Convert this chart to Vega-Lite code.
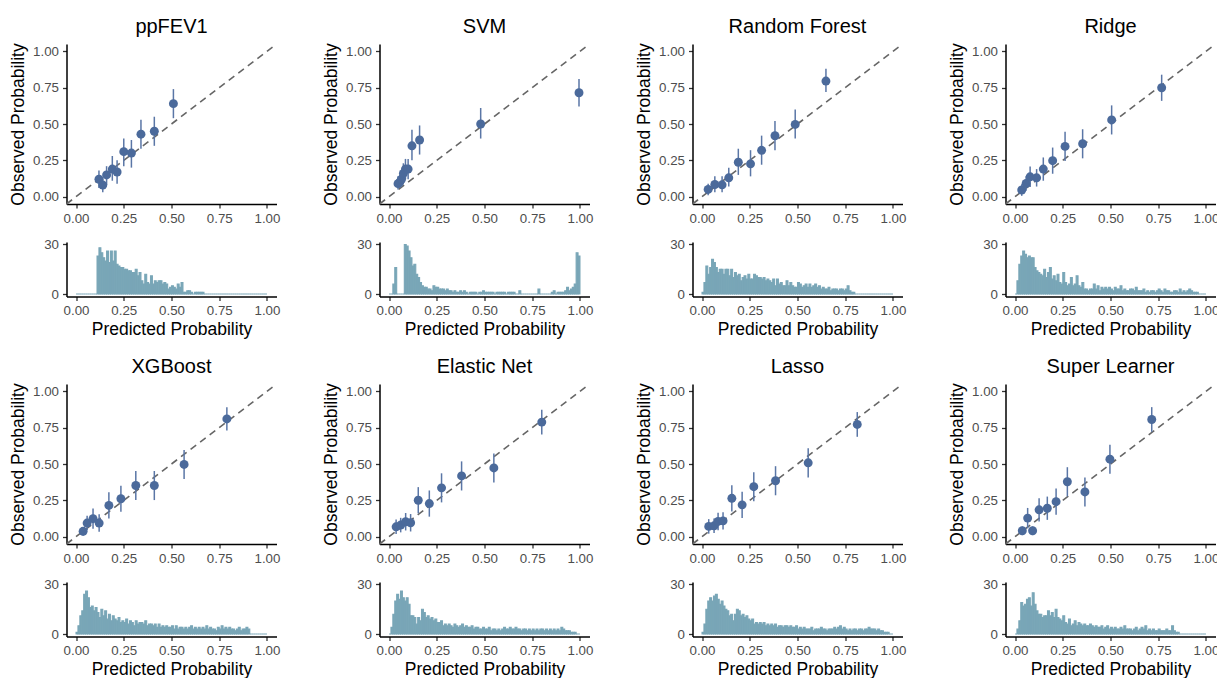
{
"$schema": "https://vega.github.io/schema/vega-lite/v6.json",
"background": "white",
"padding": {"left": 9.5, "top": 17, "right": 0, "bottom": 0},
"config": {
  "font": "Liberation Sans",
  "view": {"stroke": null},
  "axis": {"grid": false, "domainColor": "#000000", "domainWidth": 1.5, "tickColor": "#333333", "tickWidth": 1.3, "tickSize": 4, "labelColor": "#4D4D4D", "labelFontSize": 13.3, "labelPadding": 3, "labelFlush": false, "labelOverlap": false, "titleFontSize": 17.5, "titleFontWeight": "normal", "titleColor": "#000000", "titlePadding": 4},
  "axisY": {"labelPadding": 4, "titlePadding": 5},
  "title": {"fontSize": 20, "fontWeight": "normal", "color": "#000000", "anchor": "middle", "frame": "group", "baseline": "alphabetic", "offset": 3.5}
},
"datasets": {
"calib": [
{"model":"ppFEV1","pred":0.12,"obs":0.12,"lo":0.06,"hi":0.18},
{"model":"ppFEV1","pred":0.14,"obs":0.08,"lo":0.03,"hi":0.13},
{"model":"ppFEV1","pred":0.16,"obs":0.15,"lo":0.08,"hi":0.21},
{"model":"ppFEV1","pred":0.19,"obs":0.19,"lo":0.11,"hi":0.28},
{"model":"ppFEV1","pred":0.215,"obs":0.17,"lo":0.09,"hi":0.25},
{"model":"ppFEV1","pred":0.25,"obs":0.31,"lo":0.21,"hi":0.40},
{"model":"ppFEV1","pred":0.29,"obs":0.30,"lo":0.20,"hi":0.39},
{"model":"ppFEV1","pred":0.34,"obs":0.43,"lo":0.33,"hi":0.53},
{"model":"ppFEV1","pred":0.41,"obs":0.45,"lo":0.35,"hi":0.55},
{"model":"ppFEV1","pred":0.51,"obs":0.64,"lo":0.54,"hi":0.74},
{"model":"SVM","pred":0.047,"obs":0.09,"lo":0.05,"hi":0.14},
{"model":"SVM","pred":0.056,"obs":0.10,"lo":0.06,"hi":0.15},
{"model":"SVM","pred":0.065,"obs":0.12,"lo":0.07,"hi":0.17},
{"model":"SVM","pred":0.075,"obs":0.16,"lo":0.10,"hi":0.23},
{"model":"SVM","pred":0.086,"obs":0.19,"lo":0.12,"hi":0.26},
{"model":"SVM","pred":0.10,"obs":0.19,"lo":0.12,"hi":0.26},
{"model":"SVM","pred":0.12,"obs":0.35,"lo":0.25,"hi":0.46},
{"model":"SVM","pred":0.16,"obs":0.39,"lo":0.29,"hi":0.49},
{"model":"SVM","pred":0.48,"obs":0.50,"lo":0.40,"hi":0.61},
{"model":"SVM","pred":0.995,"obs":0.715,"lo":0.62,"hi":0.81},
{"model":"Random Forest","pred":0.032,"obs":0.05,"lo":0.01,"hi":0.09},
{"model":"Random Forest","pred":0.067,"obs":0.084,"lo":0.03,"hi":0.14},
{"model":"Random Forest","pred":0.105,"obs":0.082,"lo":0.03,"hi":0.14},
{"model":"Random Forest","pred":0.14,"obs":0.13,"lo":0.07,"hi":0.20},
{"model":"Random Forest","pred":0.19,"obs":0.237,"lo":0.15,"hi":0.33},
{"model":"Random Forest","pred":0.254,"obs":0.226,"lo":0.14,"hi":0.32},
{"model":"Random Forest","pred":0.312,"obs":0.319,"lo":0.22,"hi":0.42},
{"model":"Random Forest","pred":0.382,"obs":0.419,"lo":0.32,"hi":0.52},
{"model":"Random Forest","pred":0.488,"obs":0.497,"lo":0.40,"hi":0.60},
{"model":"Random Forest","pred":0.649,"obs":0.795,"lo":0.72,"hi":0.88},
{"model":"Ridge","pred":0.035,"obs":0.046,"lo":0.006,"hi":0.086},
{"model":"Ridge","pred":0.058,"obs":0.091,"lo":0.041,"hi":0.141},
{"model":"Ridge","pred":0.079,"obs":0.137,"lo":0.067,"hi":0.207},
{"model":"Ridge","pred":0.113,"obs":0.13,"lo":0.07,"hi":0.19},
{"model":"Ridge","pred":0.148,"obs":0.19,"lo":0.11,"hi":0.27},
{"model":"Ridge","pred":0.197,"obs":0.248,"lo":0.158,"hi":0.338},
{"model":"Ridge","pred":0.262,"obs":0.346,"lo":0.246,"hi":0.446},
{"model":"Ridge","pred":0.354,"obs":0.364,"lo":0.264,"hi":0.464},
{"model":"Ridge","pred":0.506,"obs":0.528,"lo":0.428,"hi":0.628},
{"model":"Ridge","pred":0.768,"obs":0.749,"lo":0.659,"hi":0.839},
{"model":"XGBoost","pred":0.037,"obs":0.037,"lo":0.007,"hi":0.067},
{"model":"XGBoost","pred":0.058,"obs":0.094,"lo":0.044,"hi":0.144},
{"model":"XGBoost","pred":0.089,"obs":0.124,"lo":0.054,"hi":0.194},
{"model":"XGBoost","pred":0.121,"obs":0.094,"lo":0.034,"hi":0.154},
{"model":"XGBoost","pred":0.172,"obs":0.215,"lo":0.125,"hi":0.305},
{"model":"XGBoost","pred":0.235,"obs":0.261,"lo":0.171,"hi":0.351},
{"model":"XGBoost","pred":0.313,"obs":0.352,"lo":0.252,"hi":0.452},
{"model":"XGBoost","pred":0.41,"obs":0.352,"lo":0.252,"hi":0.452},
{"model":"XGBoost","pred":0.566,"obs":0.497,"lo":0.397,"hi":0.597},
{"model":"XGBoost","pred":0.79,"obs":0.81,"lo":0.73,"hi":0.89},
{"model":"Elastic Net","pred":0.037,"obs":0.068,"lo":0.018,"hi":0.118},
{"model":"Elastic Net","pred":0.061,"obs":0.08,"lo":0.03,"hi":0.13},
{"model":"Elastic Net","pred":0.087,"obs":0.103,"lo":0.043,"hi":0.163},
{"model":"Elastic Net","pred":0.113,"obs":0.096,"lo":0.036,"hi":0.156},
{"model":"Elastic Net","pred":0.153,"obs":0.251,"lo":0.161,"hi":0.341},
{"model":"Elastic Net","pred":0.211,"obs":0.228,"lo":0.138,"hi":0.318},
{"model":"Elastic Net","pred":0.275,"obs":0.336,"lo":0.236,"hi":0.436},
{"model":"Elastic Net","pred":0.38,"obs":0.418,"lo":0.318,"hi":0.518},
{"model":"Elastic Net","pred":0.549,"obs":0.473,"lo":0.373,"hi":0.573},
{"model":"Elastic Net","pred":0.80,"obs":0.788,"lo":0.703,"hi":0.873},
{"model":"Lasso","pred":0.035,"obs":0.071,"lo":0.021,"hi":0.121},
{"model":"Lasso","pred":0.063,"obs":0.075,"lo":0.025,"hi":0.125},
{"model":"Lasso","pred":0.084,"obs":0.105,"lo":0.045,"hi":0.165},
{"model":"Lasso","pred":0.11,"obs":0.109,"lo":0.049,"hi":0.169},
{"model":"Lasso","pred":0.156,"obs":0.264,"lo":0.174,"hi":0.354},
{"model":"Lasso","pred":0.21,"obs":0.219,"lo":0.129,"hi":0.309},
{"model":"Lasso","pred":0.271,"obs":0.344,"lo":0.244,"hi":0.444},
{"model":"Lasso","pred":0.385,"obs":0.385,"lo":0.285,"hi":0.485},
{"model":"Lasso","pred":0.556,"obs":0.508,"lo":0.408,"hi":0.608},
{"model":"Lasso","pred":0.813,"obs":0.772,"lo":0.687,"hi":0.857},
{"model":"Super Learner","pred":0.038,"obs":0.041,"lo":0.011,"hi":0.071},
{"model":"Super Learner","pred":0.066,"obs":0.128,"lo":0.058,"hi":0.198},
{"model":"Super Learner","pred":0.092,"obs":0.041,"lo":0.011,"hi":0.071},
{"model":"Super Learner","pred":0.126,"obs":0.185,"lo":0.105,"hi":0.265},
{"model":"Super Learner","pred":0.169,"obs":0.196,"lo":0.116,"hi":0.276},
{"model":"Super Learner","pred":0.215,"obs":0.241,"lo":0.151,"hi":0.331},
{"model":"Super Learner","pred":0.274,"obs":0.378,"lo":0.278,"hi":0.478},
{"model":"Super Learner","pred":0.366,"obs":0.308,"lo":0.208,"hi":0.408},
{"model":"Super Learner","pred":0.497,"obs":0.533,"lo":0.433,"hi":0.633},
{"model":"Super Learner","pred":0.716,"obs":0.806,"lo":0.721,"hi":0.891}
],
"hist": [
{"model":"ppFEV1","b0":0,"b1":0.01,"n":0},{"model":"ppFEV1","b0":0.01,"b1":0.02,"n":0},{"model":"ppFEV1","b0":0.02,"b1":0.03,"n":0},{"model":"ppFEV1","b0":0.03,"b1":0.04,"n":0},{"model":"ppFEV1","b0":0.04,"b1":0.05,"n":0},{"model":"ppFEV1","b0":0.05,"b1":0.06,"n":0},{"model":"ppFEV1","b0":0.06,"b1":0.07,"n":0},{"model":"ppFEV1","b0":0.07,"b1":0.08,"n":0},{"model":"ppFEV1","b0":0.08,"b1":0.09,"n":0},{"model":"ppFEV1","b0":0.09,"b1":0.1,"n":0},
{"model":"ppFEV1","b0":0.1,"b1":0.11,"n":0},{"model":"ppFEV1","b0":0.11,"b1":0.12,"n":23},{"model":"ppFEV1","b0":0.12,"b1":0.13,"n":28},{"model":"ppFEV1","b0":0.13,"b1":0.14,"n":25},{"model":"ppFEV1","b0":0.14,"b1":0.15,"n":22},{"model":"ppFEV1","b0":0.15,"b1":0.16,"n":20},{"model":"ppFEV1","b0":0.16,"b1":0.17,"n":26},{"model":"ppFEV1","b0":0.17,"b1":0.18,"n":19},{"model":"ppFEV1","b0":0.18,"b1":0.19,"n":26},{"model":"ppFEV1","b0":0.19,"b1":0.2,"n":20},
{"model":"ppFEV1","b0":0.2,"b1":0.21,"n":26},{"model":"ppFEV1","b0":0.21,"b1":0.22,"n":18},{"model":"ppFEV1","b0":0.22,"b1":0.23,"n":17},{"model":"ppFEV1","b0":0.23,"b1":0.24,"n":16},{"model":"ppFEV1","b0":0.24,"b1":0.25,"n":16},{"model":"ppFEV1","b0":0.25,"b1":0.26,"n":15},{"model":"ppFEV1","b0":0.26,"b1":0.27,"n":15},{"model":"ppFEV1","b0":0.27,"b1":0.28,"n":14},{"model":"ppFEV1","b0":0.28,"b1":0.29,"n":14},{"model":"ppFEV1","b0":0.29,"b1":0.3,"n":13},
{"model":"ppFEV1","b0":0.3,"b1":0.31,"n":13},{"model":"ppFEV1","b0":0.31,"b1":0.32,"n":15},{"model":"ppFEV1","b0":0.32,"b1":0.33,"n":11},{"model":"ppFEV1","b0":0.33,"b1":0.34,"n":13},{"model":"ppFEV1","b0":0.34,"b1":0.35,"n":8},{"model":"ppFEV1","b0":0.35,"b1":0.36,"n":6},{"model":"ppFEV1","b0":0.36,"b1":0.37,"n":12},{"model":"ppFEV1","b0":0.37,"b1":0.38,"n":7},{"model":"ppFEV1","b0":0.38,"b1":0.39,"n":6},{"model":"ppFEV1","b0":0.39,"b1":0.4,"n":11},
{"model":"ppFEV1","b0":0.4,"b1":0.41,"n":6},{"model":"ppFEV1","b0":0.41,"b1":0.42,"n":8},{"model":"ppFEV1","b0":0.42,"b1":0.43,"n":7},{"model":"ppFEV1","b0":0.43,"b1":0.44,"n":8},{"model":"ppFEV1","b0":0.44,"b1":0.45,"n":8},{"model":"ppFEV1","b0":0.45,"b1":0.46,"n":6},{"model":"ppFEV1","b0":0.46,"b1":0.47,"n":7},{"model":"ppFEV1","b0":0.47,"b1":0.48,"n":6},{"model":"ppFEV1","b0":0.48,"b1":0.49,"n":3},{"model":"ppFEV1","b0":0.49,"b1":0.5,"n":4},
{"model":"ppFEV1","b0":0.5,"b1":0.51,"n":5},{"model":"ppFEV1","b0":0.51,"b1":0.52,"n":4},{"model":"ppFEV1","b0":0.52,"b1":0.53,"n":3},{"model":"ppFEV1","b0":0.53,"b1":0.54,"n":6},{"model":"ppFEV1","b0":0.54,"b1":0.55,"n":4},{"model":"ppFEV1","b0":0.55,"b1":0.56,"n":7},{"model":"ppFEV1","b0":0.56,"b1":0.57,"n":1},{"model":"ppFEV1","b0":0.57,"b1":0.58,"n":1},{"model":"ppFEV1","b0":0.58,"b1":0.59,"n":2},{"model":"ppFEV1","b0":0.59,"b1":0.6,"n":2},
{"model":"ppFEV1","b0":0.6,"b1":0.61,"n":1},{"model":"ppFEV1","b0":0.61,"b1":0.62,"n":0},{"model":"ppFEV1","b0":0.62,"b1":0.63,"n":1},{"model":"ppFEV1","b0":0.63,"b1":0.64,"n":1},{"model":"ppFEV1","b0":0.64,"b1":0.65,"n":1},{"model":"ppFEV1","b0":0.65,"b1":0.66,"n":1},{"model":"ppFEV1","b0":0.66,"b1":0.67,"n":1},{"model":"ppFEV1","b0":0.67,"b1":0.68,"n":0},{"model":"ppFEV1","b0":0.68,"b1":0.69,"n":0},{"model":"ppFEV1","b0":0.69,"b1":0.7,"n":0},
{"model":"ppFEV1","b0":0.7,"b1":0.71,"n":0},{"model":"ppFEV1","b0":0.71,"b1":0.72,"n":0},{"model":"ppFEV1","b0":0.72,"b1":0.73,"n":0},{"model":"ppFEV1","b0":0.73,"b1":0.74,"n":0},{"model":"ppFEV1","b0":0.74,"b1":0.75,"n":0},{"model":"ppFEV1","b0":0.75,"b1":0.76,"n":0},{"model":"ppFEV1","b0":0.76,"b1":0.77,"n":0},{"model":"ppFEV1","b0":0.77,"b1":0.78,"n":0},{"model":"ppFEV1","b0":0.78,"b1":0.79,"n":0},{"model":"ppFEV1","b0":0.79,"b1":0.8,"n":0},
{"model":"ppFEV1","b0":0.8,"b1":0.81,"n":0},{"model":"ppFEV1","b0":0.81,"b1":0.82,"n":0},{"model":"ppFEV1","b0":0.82,"b1":0.83,"n":0},{"model":"ppFEV1","b0":0.83,"b1":0.84,"n":0},{"model":"ppFEV1","b0":0.84,"b1":0.85,"n":0},{"model":"ppFEV1","b0":0.85,"b1":0.86,"n":0},{"model":"ppFEV1","b0":0.86,"b1":0.87,"n":0},{"model":"ppFEV1","b0":0.87,"b1":0.88,"n":0},{"model":"ppFEV1","b0":0.88,"b1":0.89,"n":0},{"model":"ppFEV1","b0":0.89,"b1":0.9,"n":0},
{"model":"ppFEV1","b0":0.9,"b1":0.91,"n":0},{"model":"ppFEV1","b0":0.91,"b1":0.92,"n":0},{"model":"ppFEV1","b0":0.92,"b1":0.93,"n":0},{"model":"ppFEV1","b0":0.93,"b1":0.94,"n":0},{"model":"ppFEV1","b0":0.94,"b1":0.95,"n":0},{"model":"ppFEV1","b0":0.95,"b1":0.96,"n":0},{"model":"ppFEV1","b0":0.96,"b1":0.97,"n":0},{"model":"ppFEV1","b0":0.97,"b1":0.98,"n":0},{"model":"ppFEV1","b0":0.98,"b1":0.99,"n":0},{"model":"ppFEV1","b0":0.99,"b1":1,"n":0},

{"model":"SVM","b0":0,"b1":0.01,"n":0},{"model":"SVM","b0":0.01,"b1":0.02,"n":0},{"model":"SVM","b0":0.02,"b1":0.03,"n":6},{"model":"SVM","b0":0.03,"b1":0.04,"n":16},{"model":"SVM","b0":0.04,"b1":0.05,"n":0},{"model":"SVM","b0":0.05,"b1":0.06,"n":0},{"model":"SVM","b0":0.06,"b1":0.07,"n":0},{"model":"SVM","b0":0.07,"b1":0.08,"n":0},{"model":"SVM","b0":0.08,"b1":0.09,"n":30},{"model":"SVM","b0":0.09,"b1":0.1,"n":29},
{"model":"SVM","b0":0.1,"b1":0.11,"n":26},{"model":"SVM","b0":0.11,"b1":0.12,"n":22},{"model":"SVM","b0":0.12,"b1":0.13,"n":17},{"model":"SVM","b0":0.13,"b1":0.14,"n":18},{"model":"SVM","b0":0.14,"b1":0.15,"n":12},{"model":"SVM","b0":0.15,"b1":0.16,"n":10},{"model":"SVM","b0":0.16,"b1":0.17,"n":7},{"model":"SVM","b0":0.17,"b1":0.18,"n":5},{"model":"SVM","b0":0.18,"b1":0.19,"n":4},{"model":"SVM","b0":0.19,"b1":0.2,"n":4},
{"model":"SVM","b0":0.2,"b1":0.21,"n":3},{"model":"SVM","b0":0.21,"b1":0.22,"n":3},{"model":"SVM","b0":0.22,"b1":0.23,"n":2},{"model":"SVM","b0":0.23,"b1":0.24,"n":5},{"model":"SVM","b0":0.24,"b1":0.25,"n":4},{"model":"SVM","b0":0.25,"b1":0.26,"n":4},{"model":"SVM","b0":0.26,"b1":0.27,"n":3},{"model":"SVM","b0":0.27,"b1":0.28,"n":3},{"model":"SVM","b0":0.28,"b1":0.29,"n":3},{"model":"SVM","b0":0.29,"b1":0.3,"n":2},
{"model":"SVM","b0":0.3,"b1":0.31,"n":3},{"model":"SVM","b0":0.31,"b1":0.32,"n":2},{"model":"SVM","b0":0.32,"b1":0.33,"n":2},{"model":"SVM","b0":0.33,"b1":0.34,"n":1},{"model":"SVM","b0":0.34,"b1":0.35,"n":2},{"model":"SVM","b0":0.35,"b1":0.36,"n":1},{"model":"SVM","b0":0.36,"b1":0.37,"n":1},{"model":"SVM","b0":0.37,"b1":0.38,"n":2},{"model":"SVM","b0":0.38,"b1":0.39,"n":1},{"model":"SVM","b0":0.39,"b1":0.4,"n":2},
{"model":"SVM","b0":0.4,"b1":0.41,"n":1},{"model":"SVM","b0":0.41,"b1":0.42,"n":0},{"model":"SVM","b0":0.42,"b1":0.43,"n":1},{"model":"SVM","b0":0.43,"b1":0.44,"n":1},{"model":"SVM","b0":0.44,"b1":0.45,"n":1},{"model":"SVM","b0":0.45,"b1":0.46,"n":1},{"model":"SVM","b0":0.46,"b1":0.47,"n":0},{"model":"SVM","b0":0.47,"b1":0.48,"n":1},{"model":"SVM","b0":0.48,"b1":0.49,"n":1},{"model":"SVM","b0":0.49,"b1":0.5,"n":2},
{"model":"SVM","b0":0.5,"b1":0.51,"n":1},{"model":"SVM","b0":0.51,"b1":0.52,"n":1},{"model":"SVM","b0":0.52,"b1":0.53,"n":1},{"model":"SVM","b0":0.53,"b1":0.54,"n":1},{"model":"SVM","b0":0.54,"b1":0.55,"n":1},{"model":"SVM","b0":0.55,"b1":0.56,"n":0},{"model":"SVM","b0":0.56,"b1":0.57,"n":1},{"model":"SVM","b0":0.57,"b1":0.58,"n":1},{"model":"SVM","b0":0.58,"b1":0.59,"n":1},{"model":"SVM","b0":0.59,"b1":0.6,"n":1},
{"model":"SVM","b0":0.6,"b1":0.61,"n":1},{"model":"SVM","b0":0.61,"b1":0.62,"n":0},{"model":"SVM","b0":0.62,"b1":0.63,"n":1},{"model":"SVM","b0":0.63,"b1":0.64,"n":1},{"model":"SVM","b0":0.64,"b1":0.65,"n":1},{"model":"SVM","b0":0.65,"b1":0.66,"n":1},{"model":"SVM","b0":0.66,"b1":0.67,"n":0},{"model":"SVM","b0":0.67,"b1":0.68,"n":0},{"model":"SVM","b0":0.68,"b1":0.69,"n":2},{"model":"SVM","b0":0.69,"b1":0.7,"n":0},
{"model":"SVM","b0":0.7,"b1":0.71,"n":0},{"model":"SVM","b0":0.71,"b1":0.72,"n":0},{"model":"SVM","b0":0.72,"b1":0.73,"n":0},{"model":"SVM","b0":0.73,"b1":0.74,"n":0},{"model":"SVM","b0":0.74,"b1":0.75,"n":0},{"model":"SVM","b0":0.75,"b1":0.76,"n":0},{"model":"SVM","b0":0.76,"b1":0.77,"n":0},{"model":"SVM","b0":0.77,"b1":0.78,"n":0},{"model":"SVM","b0":0.78,"b1":0.79,"n":3},{"model":"SVM","b0":0.79,"b1":0.8,"n":0},
{"model":"SVM","b0":0.8,"b1":0.81,"n":0},{"model":"SVM","b0":0.81,"b1":0.82,"n":0},{"model":"SVM","b0":0.82,"b1":0.83,"n":0},{"model":"SVM","b0":0.83,"b1":0.84,"n":0},{"model":"SVM","b0":0.84,"b1":0.85,"n":0},{"model":"SVM","b0":0.85,"b1":0.86,"n":1},{"model":"SVM","b0":0.86,"b1":0.87,"n":2},{"model":"SVM","b0":0.87,"b1":0.88,"n":0},{"model":"SVM","b0":0.88,"b1":0.89,"n":1},{"model":"SVM","b0":0.89,"b1":0.9,"n":1},
{"model":"SVM","b0":0.9,"b1":0.91,"n":1},{"model":"SVM","b0":0.91,"b1":0.92,"n":1},{"model":"SVM","b0":0.92,"b1":0.93,"n":2},{"model":"SVM","b0":0.93,"b1":0.94,"n":4},{"model":"SVM","b0":0.94,"b1":0.95,"n":2},{"model":"SVM","b0":0.95,"b1":0.96,"n":3},{"model":"SVM","b0":0.96,"b1":0.97,"n":4},{"model":"SVM","b0":0.97,"b1":0.98,"n":6},{"model":"SVM","b0":0.98,"b1":0.99,"n":25},{"model":"SVM","b0":0.99,"b1":1,"n":23},

{"model":"Random Forest","b0":0,"b1":0.01,"n":1},{"model":"Random Forest","b0":0.01,"b1":0.02,"n":7},{"model":"Random Forest","b0":0.02,"b1":0.03,"n":17},{"model":"Random Forest","b0":0.03,"b1":0.04,"n":12},{"model":"Random Forest","b0":0.04,"b1":0.05,"n":16},{"model":"Random Forest","b0":0.05,"b1":0.06,"n":21},{"model":"Random Forest","b0":0.06,"b1":0.07,"n":19},{"model":"Random Forest","b0":0.07,"b1":0.08,"n":16},{"model":"Random Forest","b0":0.08,"b1":0.09,"n":13},{"model":"Random Forest","b0":0.09,"b1":0.1,"n":15},
{"model":"Random Forest","b0":0.1,"b1":0.11,"n":15},{"model":"Random Forest","b0":0.11,"b1":0.12,"n":12},{"model":"Random Forest","b0":0.12,"b1":0.13,"n":15},{"model":"Random Forest","b0":0.13,"b1":0.14,"n":15},{"model":"Random Forest","b0":0.14,"b1":0.15,"n":11},{"model":"Random Forest","b0":0.15,"b1":0.16,"n":15},{"model":"Random Forest","b0":0.16,"b1":0.17,"n":10},{"model":"Random Forest","b0":0.17,"b1":0.18,"n":13},{"model":"Random Forest","b0":0.18,"b1":0.19,"n":11},{"model":"Random Forest","b0":0.19,"b1":0.2,"n":12},
{"model":"Random Forest","b0":0.2,"b1":0.21,"n":8},{"model":"Random Forest","b0":0.21,"b1":0.22,"n":10},{"model":"Random Forest","b0":0.22,"b1":0.23,"n":11},{"model":"Random Forest","b0":0.23,"b1":0.24,"n":9},{"model":"Random Forest","b0":0.24,"b1":0.25,"n":12},{"model":"Random Forest","b0":0.25,"b1":0.26,"n":9},{"model":"Random Forest","b0":0.26,"b1":0.27,"n":9},{"model":"Random Forest","b0":0.27,"b1":0.28,"n":12},{"model":"Random Forest","b0":0.28,"b1":0.29,"n":11},{"model":"Random Forest","b0":0.29,"b1":0.3,"n":10},
{"model":"Random Forest","b0":0.3,"b1":0.31,"n":10},{"model":"Random Forest","b0":0.31,"b1":0.32,"n":9},{"model":"Random Forest","b0":0.32,"b1":0.33,"n":10},{"model":"Random Forest","b0":0.33,"b1":0.34,"n":8},{"model":"Random Forest","b0":0.34,"b1":0.35,"n":9},{"model":"Random Forest","b0":0.35,"b1":0.36,"n":8},{"model":"Random Forest","b0":0.36,"b1":0.37,"n":7},{"model":"Random Forest","b0":0.37,"b1":0.38,"n":9},{"model":"Random Forest","b0":0.38,"b1":0.39,"n":5},{"model":"Random Forest","b0":0.39,"b1":0.4,"n":9},
{"model":"Random Forest","b0":0.4,"b1":0.41,"n":6},{"model":"Random Forest","b0":0.41,"b1":0.42,"n":7},{"model":"Random Forest","b0":0.42,"b1":0.43,"n":5},{"model":"Random Forest","b0":0.43,"b1":0.44,"n":5},{"model":"Random Forest","b0":0.44,"b1":0.45,"n":8},{"model":"Random Forest","b0":0.45,"b1":0.46,"n":5},{"model":"Random Forest","b0":0.46,"b1":0.47,"n":7},{"model":"Random Forest","b0":0.47,"b1":0.48,"n":5},{"model":"Random Forest","b0":0.48,"b1":0.49,"n":4},{"model":"Random Forest","b0":0.49,"b1":0.5,"n":4},
{"model":"Random Forest","b0":0.5,"b1":0.51,"n":7},{"model":"Random Forest","b0":0.51,"b1":0.52,"n":6},{"model":"Random Forest","b0":0.52,"b1":0.53,"n":4},{"model":"Random Forest","b0":0.53,"b1":0.54,"n":5},{"model":"Random Forest","b0":0.54,"b1":0.55,"n":6},{"model":"Random Forest","b0":0.55,"b1":0.56,"n":4},{"model":"Random Forest","b0":0.56,"b1":0.57,"n":6},{"model":"Random Forest","b0":0.57,"b1":0.58,"n":4},{"model":"Random Forest","b0":0.58,"b1":0.59,"n":5},{"model":"Random Forest","b0":0.59,"b1":0.6,"n":6},
{"model":"Random Forest","b0":0.6,"b1":0.61,"n":4},{"model":"Random Forest","b0":0.61,"b1":0.62,"n":5},{"model":"Random Forest","b0":0.62,"b1":0.63,"n":3},{"model":"Random Forest","b0":0.63,"b1":0.64,"n":4},{"model":"Random Forest","b0":0.64,"b1":0.65,"n":3},{"model":"Random Forest","b0":0.65,"b1":0.66,"n":3},{"model":"Random Forest","b0":0.66,"b1":0.67,"n":4},{"model":"Random Forest","b0":0.67,"b1":0.68,"n":2},{"model":"Random Forest","b0":0.68,"b1":0.69,"n":3},{"model":"Random Forest","b0":0.69,"b1":0.7,"n":3},
{"model":"Random Forest","b0":0.7,"b1":0.71,"n":3},{"model":"Random Forest","b0":0.71,"b1":0.72,"n":2},{"model":"Random Forest","b0":0.72,"b1":0.73,"n":3},{"model":"Random Forest","b0":0.73,"b1":0.74,"n":3},{"model":"Random Forest","b0":0.74,"b1":0.75,"n":2},{"model":"Random Forest","b0":0.75,"b1":0.76,"n":3},{"model":"Random Forest","b0":0.76,"b1":0.77,"n":5},{"model":"Random Forest","b0":0.77,"b1":0.78,"n":2},{"model":"Random Forest","b0":0.78,"b1":0.79,"n":1},{"model":"Random Forest","b0":0.79,"b1":0.8,"n":1},
{"model":"Random Forest","b0":0.8,"b1":0.81,"n":0},{"model":"Random Forest","b0":0.81,"b1":0.82,"n":0},{"model":"Random Forest","b0":0.82,"b1":0.83,"n":0},{"model":"Random Forest","b0":0.83,"b1":0.84,"n":0},{"model":"Random Forest","b0":0.84,"b1":0.85,"n":0},{"model":"Random Forest","b0":0.85,"b1":0.86,"n":0},{"model":"Random Forest","b0":0.86,"b1":0.87,"n":0},{"model":"Random Forest","b0":0.87,"b1":0.88,"n":0},{"model":"Random Forest","b0":0.88,"b1":0.89,"n":0},{"model":"Random Forest","b0":0.89,"b1":0.9,"n":0},
{"model":"Random Forest","b0":0.9,"b1":0.91,"n":0},{"model":"Random Forest","b0":0.91,"b1":0.92,"n":0},{"model":"Random Forest","b0":0.92,"b1":0.93,"n":0},{"model":"Random Forest","b0":0.93,"b1":0.94,"n":0},{"model":"Random Forest","b0":0.94,"b1":0.95,"n":0},{"model":"Random Forest","b0":0.95,"b1":0.96,"n":0},{"model":"Random Forest","b0":0.96,"b1":0.97,"n":0},{"model":"Random Forest","b0":0.97,"b1":0.98,"n":0},{"model":"Random Forest","b0":0.98,"b1":0.99,"n":0},{"model":"Random Forest","b0":0.99,"b1":1,"n":0},

{"model":"Ridge","b0":0,"b1":0.01,"n":0},{"model":"Ridge","b0":0.01,"b1":0.02,"n":8},{"model":"Ridge","b0":0.02,"b1":0.03,"n":18},{"model":"Ridge","b0":0.03,"b1":0.04,"n":23},{"model":"Ridge","b0":0.04,"b1":0.05,"n":26},{"model":"Ridge","b0":0.05,"b1":0.06,"n":24},{"model":"Ridge","b0":0.06,"b1":0.07,"n":22},{"model":"Ridge","b0":0.07,"b1":0.08,"n":23},{"model":"Ridge","b0":0.08,"b1":0.09,"n":22},{"model":"Ridge","b0":0.09,"b1":0.1,"n":22},
{"model":"Ridge","b0":0.1,"b1":0.11,"n":16},{"model":"Ridge","b0":0.11,"b1":0.12,"n":14},{"model":"Ridge","b0":0.12,"b1":0.13,"n":13},{"model":"Ridge","b0":0.13,"b1":0.14,"n":12},{"model":"Ridge","b0":0.14,"b1":0.15,"n":11},{"model":"Ridge","b0":0.15,"b1":0.16,"n":15},{"model":"Ridge","b0":0.16,"b1":0.17,"n":10},{"model":"Ridge","b0":0.17,"b1":0.18,"n":13},{"model":"Ridge","b0":0.18,"b1":0.19,"n":16},{"model":"Ridge","b0":0.19,"b1":0.2,"n":9},
{"model":"Ridge","b0":0.2,"b1":0.21,"n":11},{"model":"Ridge","b0":0.21,"b1":0.22,"n":8},{"model":"Ridge","b0":0.22,"b1":0.23,"n":12},{"model":"Ridge","b0":0.23,"b1":0.24,"n":7},{"model":"Ridge","b0":0.24,"b1":0.25,"n":6},{"model":"Ridge","b0":0.25,"b1":0.26,"n":13},{"model":"Ridge","b0":0.26,"b1":0.27,"n":7},{"model":"Ridge","b0":0.27,"b1":0.28,"n":5},{"model":"Ridge","b0":0.28,"b1":0.29,"n":6},{"model":"Ridge","b0":0.29,"b1":0.3,"n":10},
{"model":"Ridge","b0":0.3,"b1":0.31,"n":5},{"model":"Ridge","b0":0.31,"b1":0.32,"n":6},{"model":"Ridge","b0":0.32,"b1":0.33,"n":11},{"model":"Ridge","b0":0.33,"b1":0.34,"n":5},{"model":"Ridge","b0":0.34,"b1":0.35,"n":4},{"model":"Ridge","b0":0.35,"b1":0.36,"n":7},{"model":"Ridge","b0":0.36,"b1":0.37,"n":3},{"model":"Ridge","b0":0.37,"b1":0.38,"n":3},{"model":"Ridge","b0":0.38,"b1":0.39,"n":2},{"model":"Ridge","b0":0.39,"b1":0.4,"n":3},
{"model":"Ridge","b0":0.4,"b1":0.41,"n":3},{"model":"Ridge","b0":0.41,"b1":0.42,"n":6},{"model":"Ridge","b0":0.42,"b1":0.43,"n":3},{"model":"Ridge","b0":0.43,"b1":0.44,"n":5},{"model":"Ridge","b0":0.44,"b1":0.45,"n":2},{"model":"Ridge","b0":0.45,"b1":0.46,"n":4},{"model":"Ridge","b0":0.46,"b1":0.47,"n":3},{"model":"Ridge","b0":0.47,"b1":0.48,"n":4},{"model":"Ridge","b0":0.48,"b1":0.49,"n":3},{"model":"Ridge","b0":0.49,"b1":0.5,"n":4},
{"model":"Ridge","b0":0.5,"b1":0.51,"n":3},{"model":"Ridge","b0":0.51,"b1":0.52,"n":2},{"model":"Ridge","b0":0.52,"b1":0.53,"n":4},{"model":"Ridge","b0":0.53,"b1":0.54,"n":3},{"model":"Ridge","b0":0.54,"b1":0.55,"n":3},{"model":"Ridge","b0":0.55,"b1":0.56,"n":5},{"model":"Ridge","b0":0.56,"b1":0.57,"n":2},{"model":"Ridge","b0":0.57,"b1":0.58,"n":3},{"model":"Ridge","b0":0.58,"b1":0.59,"n":2},{"model":"Ridge","b0":0.59,"b1":0.6,"n":2},
{"model":"Ridge","b0":0.6,"b1":0.61,"n":3},{"model":"Ridge","b0":0.61,"b1":0.62,"n":3},{"model":"Ridge","b0":0.62,"b1":0.63,"n":2},{"model":"Ridge","b0":0.63,"b1":0.64,"n":4},{"model":"Ridge","b0":0.64,"b1":0.65,"n":2},{"model":"Ridge","b0":0.65,"b1":0.66,"n":2},{"model":"Ridge","b0":0.66,"b1":0.67,"n":2},{"model":"Ridge","b0":0.67,"b1":0.68,"n":3},{"model":"Ridge","b0":0.68,"b1":0.69,"n":1},{"model":"Ridge","b0":0.69,"b1":0.7,"n":2},
{"model":"Ridge","b0":0.7,"b1":0.71,"n":1},{"model":"Ridge","b0":0.71,"b1":0.72,"n":2},{"model":"Ridge","b0":0.72,"b1":0.73,"n":2},{"model":"Ridge","b0":0.73,"b1":0.74,"n":1},{"model":"Ridge","b0":0.74,"b1":0.75,"n":2},{"model":"Ridge","b0":0.75,"b1":0.76,"n":3},{"model":"Ridge","b0":0.76,"b1":0.77,"n":2},{"model":"Ridge","b0":0.77,"b1":0.78,"n":1},{"model":"Ridge","b0":0.78,"b1":0.79,"n":3},{"model":"Ridge","b0":0.79,"b1":0.8,"n":2},
{"model":"Ridge","b0":0.8,"b1":0.81,"n":2},{"model":"Ridge","b0":0.81,"b1":0.82,"n":1},{"model":"Ridge","b0":0.82,"b1":0.83,"n":1},{"model":"Ridge","b0":0.83,"b1":0.84,"n":2},{"model":"Ridge","b0":0.84,"b1":0.85,"n":2},{"model":"Ridge","b0":0.85,"b1":0.86,"n":1},{"model":"Ridge","b0":0.86,"b1":0.87,"n":3},{"model":"Ridge","b0":0.87,"b1":0.88,"n":1},{"model":"Ridge","b0":0.88,"b1":0.89,"n":2},{"model":"Ridge","b0":0.89,"b1":0.9,"n":1},
{"model":"Ridge","b0":0.9,"b1":0.91,"n":2},{"model":"Ridge","b0":0.91,"b1":0.92,"n":3},{"model":"Ridge","b0":0.92,"b1":0.93,"n":2},{"model":"Ridge","b0":0.93,"b1":0.94,"n":1},{"model":"Ridge","b0":0.94,"b1":0.95,"n":1},{"model":"Ridge","b0":0.95,"b1":0.96,"n":1},{"model":"Ridge","b0":0.96,"b1":0.97,"n":0},{"model":"Ridge","b0":0.97,"b1":0.98,"n":0},{"model":"Ridge","b0":0.98,"b1":0.99,"n":0},{"model":"Ridge","b0":0.99,"b1":1,"n":0},

{"model":"XGBoost","b0":0,"b1":0.01,"n":1},{"model":"XGBoost","b0":0.01,"b1":0.02,"n":5},{"model":"XGBoost","b0":0.02,"b1":0.03,"n":11},{"model":"XGBoost","b0":0.03,"b1":0.04,"n":14},{"model":"XGBoost","b0":0.04,"b1":0.05,"n":24},{"model":"XGBoost","b0":0.05,"b1":0.06,"n":26},{"model":"XGBoost","b0":0.06,"b1":0.07,"n":22},{"model":"XGBoost","b0":0.07,"b1":0.08,"n":16},{"model":"XGBoost","b0":0.08,"b1":0.09,"n":17},{"model":"XGBoost","b0":0.09,"b1":0.1,"n":14},
{"model":"XGBoost","b0":0.1,"b1":0.11,"n":16},{"model":"XGBoost","b0":0.11,"b1":0.12,"n":13},{"model":"XGBoost","b0":0.12,"b1":0.13,"n":10},{"model":"XGBoost","b0":0.13,"b1":0.14,"n":15},{"model":"XGBoost","b0":0.14,"b1":0.15,"n":11},{"model":"XGBoost","b0":0.15,"b1":0.16,"n":14},{"model":"XGBoost","b0":0.16,"b1":0.17,"n":9},{"model":"XGBoost","b0":0.17,"b1":0.18,"n":12},{"model":"XGBoost","b0":0.18,"b1":0.19,"n":8},{"model":"XGBoost","b0":0.19,"b1":0.2,"n":11},
{"model":"XGBoost","b0":0.2,"b1":0.21,"n":9},{"model":"XGBoost","b0":0.21,"b1":0.22,"n":8},{"model":"XGBoost","b0":0.22,"b1":0.23,"n":10},{"model":"XGBoost","b0":0.23,"b1":0.24,"n":7},{"model":"XGBoost","b0":0.24,"b1":0.25,"n":8},{"model":"XGBoost","b0":0.25,"b1":0.26,"n":7},{"model":"XGBoost","b0":0.26,"b1":0.27,"n":9},{"model":"XGBoost","b0":0.27,"b1":0.28,"n":6},{"model":"XGBoost","b0":0.28,"b1":0.29,"n":8},{"model":"XGBoost","b0":0.29,"b1":0.3,"n":7},
{"model":"XGBoost","b0":0.3,"b1":0.31,"n":5},{"model":"XGBoost","b0":0.31,"b1":0.32,"n":8},{"model":"XGBoost","b0":0.32,"b1":0.33,"n":6},{"model":"XGBoost","b0":0.33,"b1":0.34,"n":7},{"model":"XGBoost","b0":0.34,"b1":0.35,"n":7},{"model":"XGBoost","b0":0.35,"b1":0.36,"n":6},{"model":"XGBoost","b0":0.36,"b1":0.37,"n":8},{"model":"XGBoost","b0":0.37,"b1":0.38,"n":5},{"model":"XGBoost","b0":0.38,"b1":0.39,"n":6},{"model":"XGBoost","b0":0.39,"b1":0.4,"n":6},
{"model":"XGBoost","b0":0.4,"b1":0.41,"n":5},{"model":"XGBoost","b0":0.41,"b1":0.42,"n":6},{"model":"XGBoost","b0":0.42,"b1":0.43,"n":4},{"model":"XGBoost","b0":0.43,"b1":0.44,"n":6},{"model":"XGBoost","b0":0.44,"b1":0.45,"n":4},{"model":"XGBoost","b0":0.45,"b1":0.46,"n":5},{"model":"XGBoost","b0":0.46,"b1":0.47,"n":4},{"model":"XGBoost","b0":0.47,"b1":0.48,"n":5},{"model":"XGBoost","b0":0.48,"b1":0.49,"n":4},{"model":"XGBoost","b0":0.49,"b1":0.5,"n":4},
{"model":"XGBoost","b0":0.5,"b1":0.51,"n":5},{"model":"XGBoost","b0":0.51,"b1":0.52,"n":3},{"model":"XGBoost","b0":0.52,"b1":0.53,"n":5},{"model":"XGBoost","b0":0.53,"b1":0.54,"n":3},{"model":"XGBoost","b0":0.54,"b1":0.55,"n":4},{"model":"XGBoost","b0":0.55,"b1":0.56,"n":4},{"model":"XGBoost","b0":0.56,"b1":0.57,"n":3},{"model":"XGBoost","b0":0.57,"b1":0.58,"n":4},{"model":"XGBoost","b0":0.58,"b1":0.59,"n":3},{"model":"XGBoost","b0":0.59,"b1":0.6,"n":4},
{"model":"XGBoost","b0":0.6,"b1":0.61,"n":5},{"model":"XGBoost","b0":0.61,"b1":0.62,"n":3},{"model":"XGBoost","b0":0.62,"b1":0.63,"n":4},{"model":"XGBoost","b0":0.63,"b1":0.64,"n":3},{"model":"XGBoost","b0":0.64,"b1":0.65,"n":4},{"model":"XGBoost","b0":0.65,"b1":0.66,"n":3},{"model":"XGBoost","b0":0.66,"b1":0.67,"n":4},{"model":"XGBoost","b0":0.67,"b1":0.68,"n":3},{"model":"XGBoost","b0":0.68,"b1":0.69,"n":5},{"model":"XGBoost","b0":0.69,"b1":0.7,"n":3},
{"model":"XGBoost","b0":0.7,"b1":0.71,"n":4},{"model":"XGBoost","b0":0.71,"b1":0.72,"n":3},{"model":"XGBoost","b0":0.72,"b1":0.73,"n":3},{"model":"XGBoost","b0":0.73,"b1":0.74,"n":2},{"model":"XGBoost","b0":0.74,"b1":0.75,"n":4},{"model":"XGBoost","b0":0.75,"b1":0.76,"n":3},{"model":"XGBoost","b0":0.76,"b1":0.77,"n":5},{"model":"XGBoost","b0":0.77,"b1":0.78,"n":3},{"model":"XGBoost","b0":0.78,"b1":0.79,"n":4},{"model":"XGBoost","b0":0.79,"b1":0.8,"n":3},
{"model":"XGBoost","b0":0.8,"b1":0.81,"n":4},{"model":"XGBoost","b0":0.81,"b1":0.82,"n":3},{"model":"XGBoost","b0":0.82,"b1":0.83,"n":3},{"model":"XGBoost","b0":0.83,"b1":0.84,"n":2},{"model":"XGBoost","b0":0.84,"b1":0.85,"n":3},{"model":"XGBoost","b0":0.85,"b1":0.86,"n":4},{"model":"XGBoost","b0":0.86,"b1":0.87,"n":2},{"model":"XGBoost","b0":0.87,"b1":0.88,"n":3},{"model":"XGBoost","b0":0.88,"b1":0.89,"n":3},{"model":"XGBoost","b0":0.89,"b1":0.9,"n":4},
{"model":"XGBoost","b0":0.9,"b1":0.91,"n":3},{"model":"XGBoost","b0":0.91,"b1":0.92,"n":0},{"model":"XGBoost","b0":0.92,"b1":0.93,"n":0},{"model":"XGBoost","b0":0.93,"b1":0.94,"n":0},{"model":"XGBoost","b0":0.94,"b1":0.95,"n":0},{"model":"XGBoost","b0":0.95,"b1":0.96,"n":0},{"model":"XGBoost","b0":0.96,"b1":0.97,"n":0},{"model":"XGBoost","b0":0.97,"b1":0.98,"n":0},{"model":"XGBoost","b0":0.98,"b1":0.99,"n":0},{"model":"XGBoost","b0":0.99,"b1":1,"n":0},

{"model":"Elastic Net","b0":0,"b1":0.01,"n":0},{"model":"Elastic Net","b0":0.01,"b1":0.02,"n":4},{"model":"Elastic Net","b0":0.02,"b1":0.03,"n":12},{"model":"Elastic Net","b0":0.03,"b1":0.04,"n":20},{"model":"Elastic Net","b0":0.04,"b1":0.05,"n":24},{"model":"Elastic Net","b0":0.05,"b1":0.06,"n":21},{"model":"Elastic Net","b0":0.06,"b1":0.07,"n":26},{"model":"Elastic Net","b0":0.07,"b1":0.08,"n":22},{"model":"Elastic Net","b0":0.08,"b1":0.09,"n":20},{"model":"Elastic Net","b0":0.09,"b1":0.1,"n":22},
{"model":"Elastic Net","b0":0.1,"b1":0.11,"n":18},{"model":"Elastic Net","b0":0.11,"b1":0.12,"n":11},{"model":"Elastic Net","b0":0.12,"b1":0.13,"n":11},{"model":"Elastic Net","b0":0.13,"b1":0.14,"n":10},{"model":"Elastic Net","b0":0.14,"b1":0.15,"n":6},{"model":"Elastic Net","b0":0.15,"b1":0.16,"n":10},{"model":"Elastic Net","b0":0.16,"b1":0.17,"n":8},{"model":"Elastic Net","b0":0.17,"b1":0.18,"n":15},{"model":"Elastic Net","b0":0.18,"b1":0.19,"n":13},{"model":"Elastic Net","b0":0.19,"b1":0.2,"n":10},
{"model":"Elastic Net","b0":0.2,"b1":0.21,"n":11},{"model":"Elastic Net","b0":0.21,"b1":0.22,"n":9},{"model":"Elastic Net","b0":0.22,"b1":0.23,"n":10},{"model":"Elastic Net","b0":0.23,"b1":0.24,"n":8},{"model":"Elastic Net","b0":0.24,"b1":0.25,"n":9},{"model":"Elastic Net","b0":0.25,"b1":0.26,"n":7},{"model":"Elastic Net","b0":0.26,"b1":0.27,"n":7},{"model":"Elastic Net","b0":0.27,"b1":0.28,"n":8},{"model":"Elastic Net","b0":0.28,"b1":0.29,"n":5},{"model":"Elastic Net","b0":0.29,"b1":0.3,"n":6},
{"model":"Elastic Net","b0":0.3,"b1":0.31,"n":5},{"model":"Elastic Net","b0":0.31,"b1":0.32,"n":6},{"model":"Elastic Net","b0":0.32,"b1":0.33,"n":5},{"model":"Elastic Net","b0":0.33,"b1":0.34,"n":4},{"model":"Elastic Net","b0":0.34,"b1":0.35,"n":6},{"model":"Elastic Net","b0":0.35,"b1":0.36,"n":5},{"model":"Elastic Net","b0":0.36,"b1":0.37,"n":4},{"model":"Elastic Net","b0":0.37,"b1":0.38,"n":5},{"model":"Elastic Net","b0":0.38,"b1":0.39,"n":6},{"model":"Elastic Net","b0":0.39,"b1":0.4,"n":4},
{"model":"Elastic Net","b0":0.4,"b1":0.41,"n":5},{"model":"Elastic Net","b0":0.41,"b1":0.42,"n":4},{"model":"Elastic Net","b0":0.42,"b1":0.43,"n":4},{"model":"Elastic Net","b0":0.43,"b1":0.44,"n":5},{"model":"Elastic Net","b0":0.44,"b1":0.45,"n":3},{"model":"Elastic Net","b0":0.45,"b1":0.46,"n":4},{"model":"Elastic Net","b0":0.46,"b1":0.47,"n":4},{"model":"Elastic Net","b0":0.47,"b1":0.48,"n":3},{"model":"Elastic Net","b0":0.48,"b1":0.49,"n":3},{"model":"Elastic Net","b0":0.49,"b1":0.5,"n":4},
{"model":"Elastic Net","b0":0.5,"b1":0.51,"n":3},{"model":"Elastic Net","b0":0.51,"b1":0.52,"n":3},{"model":"Elastic Net","b0":0.52,"b1":0.53,"n":4},{"model":"Elastic Net","b0":0.53,"b1":0.54,"n":2},{"model":"Elastic Net","b0":0.54,"b1":0.55,"n":3},{"model":"Elastic Net","b0":0.55,"b1":0.56,"n":3},{"model":"Elastic Net","b0":0.56,"b1":0.57,"n":2},{"model":"Elastic Net","b0":0.57,"b1":0.58,"n":3},{"model":"Elastic Net","b0":0.58,"b1":0.59,"n":2},{"model":"Elastic Net","b0":0.59,"b1":0.6,"n":3},
{"model":"Elastic Net","b0":0.6,"b1":0.61,"n":4},{"model":"Elastic Net","b0":0.61,"b1":0.62,"n":3},{"model":"Elastic Net","b0":0.62,"b1":0.63,"n":3},{"model":"Elastic Net","b0":0.63,"b1":0.64,"n":4},{"model":"Elastic Net","b0":0.64,"b1":0.65,"n":3},{"model":"Elastic Net","b0":0.65,"b1":0.66,"n":3},{"model":"Elastic Net","b0":0.66,"b1":0.67,"n":4},{"model":"Elastic Net","b0":0.67,"b1":0.68,"n":3},{"model":"Elastic Net","b0":0.68,"b1":0.69,"n":3},{"model":"Elastic Net","b0":0.69,"b1":0.7,"n":2},
{"model":"Elastic Net","b0":0.7,"b1":0.71,"n":3},{"model":"Elastic Net","b0":0.71,"b1":0.72,"n":3},{"model":"Elastic Net","b0":0.72,"b1":0.73,"n":2},{"model":"Elastic Net","b0":0.73,"b1":0.74,"n":3},{"model":"Elastic Net","b0":0.74,"b1":0.75,"n":2},{"model":"Elastic Net","b0":0.75,"b1":0.76,"n":3},{"model":"Elastic Net","b0":0.76,"b1":0.77,"n":2},{"model":"Elastic Net","b0":0.77,"b1":0.78,"n":3},{"model":"Elastic Net","b0":0.78,"b1":0.79,"n":2},{"model":"Elastic Net","b0":0.79,"b1":0.8,"n":3},
{"model":"Elastic Net","b0":0.8,"b1":0.81,"n":3},{"model":"Elastic Net","b0":0.81,"b1":0.82,"n":2},{"model":"Elastic Net","b0":0.82,"b1":0.83,"n":3},{"model":"Elastic Net","b0":0.83,"b1":0.84,"n":2},{"model":"Elastic Net","b0":0.84,"b1":0.85,"n":3},{"model":"Elastic Net","b0":0.85,"b1":0.86,"n":2},{"model":"Elastic Net","b0":0.86,"b1":0.87,"n":3},{"model":"Elastic Net","b0":0.87,"b1":0.88,"n":2},{"model":"Elastic Net","b0":0.88,"b1":0.89,"n":3},{"model":"Elastic Net","b0":0.89,"b1":0.9,"n":2},
{"model":"Elastic Net","b0":0.9,"b1":0.91,"n":4},{"model":"Elastic Net","b0":0.91,"b1":0.92,"n":3},{"model":"Elastic Net","b0":0.92,"b1":0.93,"n":2},{"model":"Elastic Net","b0":0.93,"b1":0.94,"n":2},{"model":"Elastic Net","b0":0.94,"b1":0.95,"n":2},{"model":"Elastic Net","b0":0.95,"b1":0.96,"n":1},{"model":"Elastic Net","b0":0.96,"b1":0.97,"n":1},{"model":"Elastic Net","b0":0.97,"b1":0.98,"n":1},{"model":"Elastic Net","b0":0.98,"b1":0.99,"n":0},{"model":"Elastic Net","b0":0.99,"b1":1,"n":0},

{"model":"Lasso","b0":0,"b1":0.01,"n":1},{"model":"Lasso","b0":0.01,"b1":0.02,"n":6},{"model":"Lasso","b0":0.02,"b1":0.03,"n":15},{"model":"Lasso","b0":0.03,"b1":0.04,"n":20},{"model":"Lasso","b0":0.04,"b1":0.05,"n":22},{"model":"Lasso","b0":0.05,"b1":0.06,"n":20},{"model":"Lasso","b0":0.06,"b1":0.07,"n":23},{"model":"Lasso","b0":0.07,"b1":0.08,"n":24},{"model":"Lasso","b0":0.08,"b1":0.09,"n":21},{"model":"Lasso","b0":0.09,"b1":0.1,"n":18},
{"model":"Lasso","b0":0.1,"b1":0.11,"n":20},{"model":"Lasso","b0":0.11,"b1":0.12,"n":17},{"model":"Lasso","b0":0.12,"b1":0.13,"n":15},{"model":"Lasso","b0":0.13,"b1":0.14,"n":14},{"model":"Lasso","b0":0.14,"b1":0.15,"n":11},{"model":"Lasso","b0":0.15,"b1":0.16,"n":12},{"model":"Lasso","b0":0.16,"b1":0.17,"n":8},{"model":"Lasso","b0":0.17,"b1":0.18,"n":12},{"model":"Lasso","b0":0.18,"b1":0.19,"n":15},{"model":"Lasso","b0":0.19,"b1":0.2,"n":14},
{"model":"Lasso","b0":0.2,"b1":0.21,"n":11},{"model":"Lasso","b0":0.21,"b1":0.22,"n":12},{"model":"Lasso","b0":0.22,"b1":0.23,"n":10},{"model":"Lasso","b0":0.23,"b1":0.24,"n":11},{"model":"Lasso","b0":0.24,"b1":0.25,"n":9},{"model":"Lasso","b0":0.25,"b1":0.26,"n":8},{"model":"Lasso","b0":0.26,"b1":0.27,"n":9},{"model":"Lasso","b0":0.27,"b1":0.28,"n":6},{"model":"Lasso","b0":0.28,"b1":0.29,"n":7},{"model":"Lasso","b0":0.29,"b1":0.3,"n":6},
{"model":"Lasso","b0":0.3,"b1":0.31,"n":7},{"model":"Lasso","b0":0.31,"b1":0.32,"n":6},{"model":"Lasso","b0":0.32,"b1":0.33,"n":7},{"model":"Lasso","b0":0.33,"b1":0.34,"n":5},{"model":"Lasso","b0":0.34,"b1":0.35,"n":6},{"model":"Lasso","b0":0.35,"b1":0.36,"n":5},{"model":"Lasso","b0":0.36,"b1":0.37,"n":6},{"model":"Lasso","b0":0.37,"b1":0.38,"n":5},{"model":"Lasso","b0":0.38,"b1":0.39,"n":6},{"model":"Lasso","b0":0.39,"b1":0.4,"n":4},
{"model":"Lasso","b0":0.4,"b1":0.41,"n":5},{"model":"Lasso","b0":0.41,"b1":0.42,"n":5},{"model":"Lasso","b0":0.42,"b1":0.43,"n":4},{"model":"Lasso","b0":0.43,"b1":0.44,"n":5},{"model":"Lasso","b0":0.44,"b1":0.45,"n":5},{"model":"Lasso","b0":0.45,"b1":0.46,"n":4},{"model":"Lasso","b0":0.46,"b1":0.47,"n":5},{"model":"Lasso","b0":0.47,"b1":0.48,"n":4},{"model":"Lasso","b0":0.48,"b1":0.49,"n":4},{"model":"Lasso","b0":0.49,"b1":0.5,"n":5},
{"model":"Lasso","b0":0.5,"b1":0.51,"n":3},{"model":"Lasso","b0":0.51,"b1":0.52,"n":4},{"model":"Lasso","b0":0.52,"b1":0.53,"n":3},{"model":"Lasso","b0":0.53,"b1":0.54,"n":4},{"model":"Lasso","b0":0.54,"b1":0.55,"n":3},{"model":"Lasso","b0":0.55,"b1":0.56,"n":3},{"model":"Lasso","b0":0.56,"b1":0.57,"n":3},{"model":"Lasso","b0":0.57,"b1":0.58,"n":4},{"model":"Lasso","b0":0.58,"b1":0.59,"n":2},{"model":"Lasso","b0":0.59,"b1":0.6,"n":3},
{"model":"Lasso","b0":0.6,"b1":0.61,"n":3},{"model":"Lasso","b0":0.61,"b1":0.62,"n":3},{"model":"Lasso","b0":0.62,"b1":0.63,"n":4},{"model":"Lasso","b0":0.63,"b1":0.64,"n":3},{"model":"Lasso","b0":0.64,"b1":0.65,"n":3},{"model":"Lasso","b0":0.65,"b1":0.66,"n":2},{"model":"Lasso","b0":0.66,"b1":0.67,"n":3},{"model":"Lasso","b0":0.67,"b1":0.68,"n":3},{"model":"Lasso","b0":0.68,"b1":0.69,"n":3},{"model":"Lasso","b0":0.69,"b1":0.7,"n":4},
{"model":"Lasso","b0":0.7,"b1":0.71,"n":3},{"model":"Lasso","b0":0.71,"b1":0.72,"n":4},{"model":"Lasso","b0":0.72,"b1":0.73,"n":5},{"model":"Lasso","b0":0.73,"b1":0.74,"n":3},{"model":"Lasso","b0":0.74,"b1":0.75,"n":4},{"model":"Lasso","b0":0.75,"b1":0.76,"n":3},{"model":"Lasso","b0":0.76,"b1":0.77,"n":2},{"model":"Lasso","b0":0.77,"b1":0.78,"n":3},{"model":"Lasso","b0":0.78,"b1":0.79,"n":2},{"model":"Lasso","b0":0.79,"b1":0.8,"n":3},
{"model":"Lasso","b0":0.8,"b1":0.81,"n":3},{"model":"Lasso","b0":0.81,"b1":0.82,"n":2},{"model":"Lasso","b0":0.82,"b1":0.83,"n":3},{"model":"Lasso","b0":0.83,"b1":0.84,"n":3},{"model":"Lasso","b0":0.84,"b1":0.85,"n":2},{"model":"Lasso","b0":0.85,"b1":0.86,"n":3},{"model":"Lasso","b0":0.86,"b1":0.87,"n":3},{"model":"Lasso","b0":0.87,"b1":0.88,"n":4},{"model":"Lasso","b0":0.88,"b1":0.89,"n":3},{"model":"Lasso","b0":0.89,"b1":0.9,"n":3},
{"model":"Lasso","b0":0.9,"b1":0.91,"n":3},{"model":"Lasso","b0":0.91,"b1":0.92,"n":2},{"model":"Lasso","b0":0.92,"b1":0.93,"n":3},{"model":"Lasso","b0":0.93,"b1":0.94,"n":2},{"model":"Lasso","b0":0.94,"b1":0.95,"n":2},{"model":"Lasso","b0":0.95,"b1":0.96,"n":1},{"model":"Lasso","b0":0.96,"b1":0.97,"n":1},{"model":"Lasso","b0":0.97,"b1":0.98,"n":1},{"model":"Lasso","b0":0.98,"b1":0.99,"n":0},{"model":"Lasso","b0":0.99,"b1":1,"n":0},

{"model":"Super Learner","b0":0,"b1":0.01,"n":0},{"model":"Super Learner","b0":0.01,"b1":0.02,"n":3},{"model":"Super Learner","b0":0.02,"b1":0.03,"n":8},{"model":"Super Learner","b0":0.03,"b1":0.04,"n":19},{"model":"Super Learner","b0":0.04,"b1":0.05,"n":17},{"model":"Super Learner","b0":0.05,"b1":0.06,"n":18},{"model":"Super Learner","b0":0.06,"b1":0.07,"n":21},{"model":"Super Learner","b0":0.07,"b1":0.08,"n":22},{"model":"Super Learner","b0":0.08,"b1":0.09,"n":17},{"model":"Super Learner","b0":0.09,"b1":0.1,"n":25},
{"model":"Super Learner","b0":0.1,"b1":0.11,"n":18},{"model":"Super Learner","b0":0.11,"b1":0.12,"n":14},{"model":"Super Learner","b0":0.12,"b1":0.13,"n":12},{"model":"Super Learner","b0":0.13,"b1":0.14,"n":12},{"model":"Super Learner","b0":0.14,"b1":0.15,"n":10},{"model":"Super Learner","b0":0.15,"b1":0.16,"n":11},{"model":"Super Learner","b0":0.16,"b1":0.17,"n":11},{"model":"Super Learner","b0":0.17,"b1":0.18,"n":14},{"model":"Super Learner","b0":0.18,"b1":0.19,"n":11},{"model":"Super Learner","b0":0.19,"b1":0.2,"n":13},
{"model":"Super Learner","b0":0.2,"b1":0.21,"n":10},{"model":"Super Learner","b0":0.21,"b1":0.22,"n":15},{"model":"Super Learner","b0":0.22,"b1":0.23,"n":10},{"model":"Super Learner","b0":0.23,"b1":0.24,"n":9},{"model":"Super Learner","b0":0.24,"b1":0.25,"n":8},{"model":"Super Learner","b0":0.25,"b1":0.26,"n":11},{"model":"Super Learner","b0":0.26,"b1":0.27,"n":7},{"model":"Super Learner","b0":0.27,"b1":0.28,"n":6},{"model":"Super Learner","b0":0.28,"b1":0.29,"n":9},{"model":"Super Learner","b0":0.29,"b1":0.3,"n":5},
{"model":"Super Learner","b0":0.3,"b1":0.31,"n":6},{"model":"Super Learner","b0":0.31,"b1":0.32,"n":8},{"model":"Super Learner","b0":0.32,"b1":0.33,"n":5},{"model":"Super Learner","b0":0.33,"b1":0.34,"n":7},{"model":"Super Learner","b0":0.34,"b1":0.35,"n":6},{"model":"Super Learner","b0":0.35,"b1":0.36,"n":5},{"model":"Super Learner","b0":0.36,"b1":0.37,"n":6},{"model":"Super Learner","b0":0.37,"b1":0.38,"n":5},{"model":"Super Learner","b0":0.38,"b1":0.39,"n":5},{"model":"Super Learner","b0":0.39,"b1":0.4,"n":6},
{"model":"Super Learner","b0":0.4,"b1":0.41,"n":5},{"model":"Super Learner","b0":0.41,"b1":0.42,"n":4},{"model":"Super Learner","b0":0.42,"b1":0.43,"n":5},{"model":"Super Learner","b0":0.43,"b1":0.44,"n":4},{"model":"Super Learner","b0":0.44,"b1":0.45,"n":4},{"model":"Super Learner","b0":0.45,"b1":0.46,"n":5},{"model":"Super Learner","b0":0.46,"b1":0.47,"n":3},{"model":"Super Learner","b0":0.47,"b1":0.48,"n":4},{"model":"Super Learner","b0":0.48,"b1":0.49,"n":5},{"model":"Super Learner","b0":0.49,"b1":0.5,"n":3},
{"model":"Super Learner","b0":0.5,"b1":0.51,"n":4},{"model":"Super Learner","b0":0.51,"b1":0.52,"n":3},{"model":"Super Learner","b0":0.52,"b1":0.53,"n":4},{"model":"Super Learner","b0":0.53,"b1":0.54,"n":3},{"model":"Super Learner","b0":0.54,"b1":0.55,"n":3},{"model":"Super Learner","b0":0.55,"b1":0.56,"n":4},{"model":"Super Learner","b0":0.56,"b1":0.57,"n":3},{"model":"Super Learner","b0":0.57,"b1":0.58,"n":5},{"model":"Super Learner","b0":0.58,"b1":0.59,"n":3},{"model":"Super Learner","b0":0.59,"b1":0.6,"n":3},
{"model":"Super Learner","b0":0.6,"b1":0.61,"n":3},{"model":"Super Learner","b0":0.61,"b1":0.62,"n":2},{"model":"Super Learner","b0":0.62,"b1":0.63,"n":3},{"model":"Super Learner","b0":0.63,"b1":0.64,"n":4},{"model":"Super Learner","b0":0.64,"b1":0.65,"n":2},{"model":"Super Learner","b0":0.65,"b1":0.66,"n":3},{"model":"Super Learner","b0":0.66,"b1":0.67,"n":4},{"model":"Super Learner","b0":0.67,"b1":0.68,"n":3},{"model":"Super Learner","b0":0.68,"b1":0.69,"n":5},{"model":"Super Learner","b0":0.69,"b1":0.7,"n":2},
{"model":"Super Learner","b0":0.7,"b1":0.71,"n":3},{"model":"Super Learner","b0":0.71,"b1":0.72,"n":2},{"model":"Super Learner","b0":0.72,"b1":0.73,"n":3},{"model":"Super Learner","b0":0.73,"b1":0.74,"n":2},{"model":"Super Learner","b0":0.74,"b1":0.75,"n":2},{"model":"Super Learner","b0":0.75,"b1":0.76,"n":3},{"model":"Super Learner","b0":0.76,"b1":0.77,"n":2},{"model":"Super Learner","b0":0.77,"b1":0.78,"n":2},{"model":"Super Learner","b0":0.78,"b1":0.79,"n":2},{"model":"Super Learner","b0":0.79,"b1":0.8,"n":3},
{"model":"Super Learner","b0":0.8,"b1":0.81,"n":2},{"model":"Super Learner","b0":0.81,"b1":0.82,"n":2},{"model":"Super Learner","b0":0.82,"b1":0.83,"n":5},{"model":"Super Learner","b0":0.83,"b1":0.84,"n":2},{"model":"Super Learner","b0":0.84,"b1":0.85,"n":1},{"model":"Super Learner","b0":0.85,"b1":0.86,"n":1},{"model":"Super Learner","b0":0.86,"b1":0.87,"n":0},{"model":"Super Learner","b0":0.87,"b1":0.88,"n":0},{"model":"Super Learner","b0":0.88,"b1":0.89,"n":0},{"model":"Super Learner","b0":0.89,"b1":0.9,"n":0},
{"model":"Super Learner","b0":0.9,"b1":0.91,"n":0},{"model":"Super Learner","b0":0.91,"b1":0.92,"n":0},{"model":"Super Learner","b0":0.92,"b1":0.93,"n":0},{"model":"Super Learner","b0":0.93,"b1":0.94,"n":0},{"model":"Super Learner","b0":0.94,"b1":0.95,"n":0},{"model":"Super Learner","b0":0.95,"b1":0.96,"n":0},{"model":"Super Learner","b0":0.96,"b1":0.97,"n":0},{"model":"Super Learner","b0":0.97,"b1":0.98,"n":0},{"model":"Super Learner","b0":0.98,"b1":0.99,"n":0},{"model":"Super Learner","b0":0.99,"b1":1,"n":0}
]
},
"columns": 4,
"spacing": {"row": 18, "column": 42},
"bounds": "full",
"concat": [
{"vconcat": [
 {"title": "ppFEV1", "width": 210, "height": 160,
  "encoding": {"x": {"field": "pred", "type": "quantitative", "title": null, "scale": {"domain": [-0.05, 1.05], "nice": false, "zero": false}, "axis": {"values": [0, 0.25, 0.5, 0.75, 1], "format": ".2f"}}, "y": {"field": "obs", "type": "quantitative", "title": "Observed Probability", "scale": {"domain": [-0.05, 1.05], "nice": false, "zero": false}, "axis": {"values": [0, 0.25, 0.5, 0.75, 1], "format": ".2f"}}},
  "layer": [
   {"data": {"values": [{"pred": -0.05, "obs": -0.05}, {"pred": 1.05, "obs": 1.05}]}, "mark": {"type": "line", "color": "#666666", "strokeWidth": 1.6, "strokeDash": [7, 5]}},
   {"data": {"name": "calib"}, "transform": [{"filter": "datum.model === 'ppFEV1'"}], "mark": {"type": "rule", "color": "#5A76A6", "strokeWidth": 1.5}, "encoding": {"y": {"field": "lo", "type": "quantitative", "title": "Observed Probability", "scale": {"domain": [-0.05, 1.05], "nice": false, "zero": false}}, "y2": {"field": "hi"}}},
   {"data": {"name": "calib"}, "transform": [{"filter": "datum.model === 'ppFEV1'"}], "mark": {"type": "circle", "size": 80, "color": "#4B6A9B", "opacity": 1}}
  ]},
 {"width": 210, "height": 54.5, "data": {"name": "hist"}, "transform": [{"filter": "datum.model === 'ppFEV1'"}],
  "mark": {"type": "bar", "color": "#79A6B7", "stroke": "#79A6B7", "strokeWidth": 1.1},
  "encoding": {"x": {"field": "b0", "type": "quantitative", "title": "Predicted Probability", "scale": {"domain": [-0.05, 1.05], "nice": false, "zero": false}, "axis": {"values": [0, 0.25, 0.5, 0.75, 1], "format": ".2f"}}, "x2": {"field": "b1"}, "y": {"field": "n", "type": "quantitative", "title": null, "scale": {"domain": [-1.5, 31.5], "nice": false, "zero": false}, "axis": {"values": [0, 30], "format": "d"}}, "y2": {"datum": 0}}}
], "spacing": 38, "bounds": "flush"},
{"vconcat": [
 {"title": "SVM", "width": 210, "height": 160,
  "encoding": {"x": {"field": "pred", "type": "quantitative", "title": null, "scale": {"domain": [-0.05, 1.05], "nice": false, "zero": false}, "axis": {"values": [0, 0.25, 0.5, 0.75, 1], "format": ".2f"}}, "y": {"field": "obs", "type": "quantitative", "title": "Observed Probability", "scale": {"domain": [-0.05, 1.05], "nice": false, "zero": false}, "axis": {"values": [0, 0.25, 0.5, 0.75, 1], "format": ".2f"}}},
  "layer": [
   {"data": {"values": [{"pred": -0.05, "obs": -0.05}, {"pred": 1.05, "obs": 1.05}]}, "mark": {"type": "line", "color": "#666666", "strokeWidth": 1.6, "strokeDash": [7, 5]}},
   {"data": {"name": "calib"}, "transform": [{"filter": "datum.model === 'SVM'"}], "mark": {"type": "rule", "color": "#5A76A6", "strokeWidth": 1.5}, "encoding": {"y": {"field": "lo", "type": "quantitative", "title": "Observed Probability", "scale": {"domain": [-0.05, 1.05], "nice": false, "zero": false}}, "y2": {"field": "hi"}}},
   {"data": {"name": "calib"}, "transform": [{"filter": "datum.model === 'SVM'"}], "mark": {"type": "circle", "size": 80, "color": "#4B6A9B", "opacity": 1}}
  ]},
 {"width": 210, "height": 54.5, "data": {"name": "hist"}, "transform": [{"filter": "datum.model === 'SVM'"}],
  "mark": {"type": "bar", "color": "#79A6B7", "stroke": "#79A6B7", "strokeWidth": 1.1},
  "encoding": {"x": {"field": "b0", "type": "quantitative", "title": "Predicted Probability", "scale": {"domain": [-0.05, 1.05], "nice": false, "zero": false}, "axis": {"values": [0, 0.25, 0.5, 0.75, 1], "format": ".2f"}}, "x2": {"field": "b1"}, "y": {"field": "n", "type": "quantitative", "title": null, "scale": {"domain": [-1.5, 31.5], "nice": false, "zero": false}, "axis": {"values": [0, 30], "format": "d"}}, "y2": {"datum": 0}}}
], "spacing": 38, "bounds": "flush"},
{"vconcat": [
 {"title": "Random Forest", "width": 210, "height": 160,
  "encoding": {"x": {"field": "pred", "type": "quantitative", "title": null, "scale": {"domain": [-0.05, 1.05], "nice": false, "zero": false}, "axis": {"values": [0, 0.25, 0.5, 0.75, 1], "format": ".2f"}}, "y": {"field": "obs", "type": "quantitative", "title": "Observed Probability", "scale": {"domain": [-0.05, 1.05], "nice": false, "zero": false}, "axis": {"values": [0, 0.25, 0.5, 0.75, 1], "format": ".2f"}}},
  "layer": [
   {"data": {"values": [{"pred": -0.05, "obs": -0.05}, {"pred": 1.05, "obs": 1.05}]}, "mark": {"type": "line", "color": "#666666", "strokeWidth": 1.6, "strokeDash": [7, 5]}},
   {"data": {"name": "calib"}, "transform": [{"filter": "datum.model === 'Random Forest'"}], "mark": {"type": "rule", "color": "#5A76A6", "strokeWidth": 1.5}, "encoding": {"y": {"field": "lo", "type": "quantitative", "title": "Observed Probability", "scale": {"domain": [-0.05, 1.05], "nice": false, "zero": false}}, "y2": {"field": "hi"}}},
   {"data": {"name": "calib"}, "transform": [{"filter": "datum.model === 'Random Forest'"}], "mark": {"type": "circle", "size": 80, "color": "#4B6A9B", "opacity": 1}}
  ]},
 {"width": 210, "height": 54.5, "data": {"name": "hist"}, "transform": [{"filter": "datum.model === 'Random Forest'"}],
  "mark": {"type": "bar", "color": "#79A6B7", "stroke": "#79A6B7", "strokeWidth": 1.1},
  "encoding": {"x": {"field": "b0", "type": "quantitative", "title": "Predicted Probability", "scale": {"domain": [-0.05, 1.05], "nice": false, "zero": false}, "axis": {"values": [0, 0.25, 0.5, 0.75, 1], "format": ".2f"}}, "x2": {"field": "b1"}, "y": {"field": "n", "type": "quantitative", "title": null, "scale": {"domain": [-1.5, 31.5], "nice": false, "zero": false}, "axis": {"values": [0, 30], "format": "d"}}, "y2": {"datum": 0}}}
], "spacing": 38, "bounds": "flush"},
{"vconcat": [
 {"title": "Ridge", "width": 210, "height": 160,
  "encoding": {"x": {"field": "pred", "type": "quantitative", "title": null, "scale": {"domain": [-0.05, 1.05], "nice": false, "zero": false}, "axis": {"values": [0, 0.25, 0.5, 0.75, 1], "format": ".2f"}}, "y": {"field": "obs", "type": "quantitative", "title": "Observed Probability", "scale": {"domain": [-0.05, 1.05], "nice": false, "zero": false}, "axis": {"values": [0, 0.25, 0.5, 0.75, 1], "format": ".2f"}}},
  "layer": [
   {"data": {"values": [{"pred": -0.05, "obs": -0.05}, {"pred": 1.05, "obs": 1.05}]}, "mark": {"type": "line", "color": "#666666", "strokeWidth": 1.6, "strokeDash": [7, 5]}},
   {"data": {"name": "calib"}, "transform": [{"filter": "datum.model === 'Ridge'"}], "mark": {"type": "rule", "color": "#5A76A6", "strokeWidth": 1.5}, "encoding": {"y": {"field": "lo", "type": "quantitative", "title": "Observed Probability", "scale": {"domain": [-0.05, 1.05], "nice": false, "zero": false}}, "y2": {"field": "hi"}}},
   {"data": {"name": "calib"}, "transform": [{"filter": "datum.model === 'Ridge'"}], "mark": {"type": "circle", "size": 80, "color": "#4B6A9B", "opacity": 1}}
  ]},
 {"width": 210, "height": 54.5, "data": {"name": "hist"}, "transform": [{"filter": "datum.model === 'Ridge'"}],
  "mark": {"type": "bar", "color": "#79A6B7", "stroke": "#79A6B7", "strokeWidth": 1.1},
  "encoding": {"x": {"field": "b0", "type": "quantitative", "title": "Predicted Probability", "scale": {"domain": [-0.05, 1.05], "nice": false, "zero": false}, "axis": {"values": [0, 0.25, 0.5, 0.75, 1], "format": ".2f"}}, "x2": {"field": "b1"}, "y": {"field": "n", "type": "quantitative", "title": null, "scale": {"domain": [-1.5, 31.5], "nice": false, "zero": false}, "axis": {"values": [0, 30], "format": "d"}}, "y2": {"datum": 0}}}
], "spacing": 38, "bounds": "flush"},
{"vconcat": [
 {"title": "XGBoost", "width": 210, "height": 160,
  "encoding": {"x": {"field": "pred", "type": "quantitative", "title": null, "scale": {"domain": [-0.05, 1.05], "nice": false, "zero": false}, "axis": {"values": [0, 0.25, 0.5, 0.75, 1], "format": ".2f"}}, "y": {"field": "obs", "type": "quantitative", "title": "Observed Probability", "scale": {"domain": [-0.05, 1.05], "nice": false, "zero": false}, "axis": {"values": [0, 0.25, 0.5, 0.75, 1], "format": ".2f"}}},
  "layer": [
   {"data": {"values": [{"pred": -0.05, "obs": -0.05}, {"pred": 1.05, "obs": 1.05}]}, "mark": {"type": "line", "color": "#666666", "strokeWidth": 1.6, "strokeDash": [7, 5]}},
   {"data": {"name": "calib"}, "transform": [{"filter": "datum.model === 'XGBoost'"}], "mark": {"type": "rule", "color": "#5A76A6", "strokeWidth": 1.5}, "encoding": {"y": {"field": "lo", "type": "quantitative", "title": "Observed Probability", "scale": {"domain": [-0.05, 1.05], "nice": false, "zero": false}}, "y2": {"field": "hi"}}},
   {"data": {"name": "calib"}, "transform": [{"filter": "datum.model === 'XGBoost'"}], "mark": {"type": "circle", "size": 80, "color": "#4B6A9B", "opacity": 1}}
  ]},
 {"width": 210, "height": 54.5, "data": {"name": "hist"}, "transform": [{"filter": "datum.model === 'XGBoost'"}],
  "mark": {"type": "bar", "color": "#79A6B7", "stroke": "#79A6B7", "strokeWidth": 1.1},
  "encoding": {"x": {"field": "b0", "type": "quantitative", "title": "Predicted Probability", "scale": {"domain": [-0.05, 1.05], "nice": false, "zero": false}, "axis": {"values": [0, 0.25, 0.5, 0.75, 1], "format": ".2f"}}, "x2": {"field": "b1"}, "y": {"field": "n", "type": "quantitative", "title": null, "scale": {"domain": [-1.5, 31.5], "nice": false, "zero": false}, "axis": {"values": [0, 30], "format": "d"}}, "y2": {"datum": 0}}}
], "spacing": 38, "bounds": "flush"},
{"vconcat": [
 {"title": "Elastic Net", "width": 210, "height": 160,
  "encoding": {"x": {"field": "pred", "type": "quantitative", "title": null, "scale": {"domain": [-0.05, 1.05], "nice": false, "zero": false}, "axis": {"values": [0, 0.25, 0.5, 0.75, 1], "format": ".2f"}}, "y": {"field": "obs", "type": "quantitative", "title": "Observed Probability", "scale": {"domain": [-0.05, 1.05], "nice": false, "zero": false}, "axis": {"values": [0, 0.25, 0.5, 0.75, 1], "format": ".2f"}}},
  "layer": [
   {"data": {"values": [{"pred": -0.05, "obs": -0.05}, {"pred": 1.05, "obs": 1.05}]}, "mark": {"type": "line", "color": "#666666", "strokeWidth": 1.6, "strokeDash": [7, 5]}},
   {"data": {"name": "calib"}, "transform": [{"filter": "datum.model === 'Elastic Net'"}], "mark": {"type": "rule", "color": "#5A76A6", "strokeWidth": 1.5}, "encoding": {"y": {"field": "lo", "type": "quantitative", "title": "Observed Probability", "scale": {"domain": [-0.05, 1.05], "nice": false, "zero": false}}, "y2": {"field": "hi"}}},
   {"data": {"name": "calib"}, "transform": [{"filter": "datum.model === 'Elastic Net'"}], "mark": {"type": "circle", "size": 80, "color": "#4B6A9B", "opacity": 1}}
  ]},
 {"width": 210, "height": 54.5, "data": {"name": "hist"}, "transform": [{"filter": "datum.model === 'Elastic Net'"}],
  "mark": {"type": "bar", "color": "#79A6B7", "stroke": "#79A6B7", "strokeWidth": 1.1},
  "encoding": {"x": {"field": "b0", "type": "quantitative", "title": "Predicted Probability", "scale": {"domain": [-0.05, 1.05], "nice": false, "zero": false}, "axis": {"values": [0, 0.25, 0.5, 0.75, 1], "format": ".2f"}}, "x2": {"field": "b1"}, "y": {"field": "n", "type": "quantitative", "title": null, "scale": {"domain": [-1.5, 31.5], "nice": false, "zero": false}, "axis": {"values": [0, 30], "format": "d"}}, "y2": {"datum": 0}}}
], "spacing": 38, "bounds": "flush"},
{"vconcat": [
 {"title": "Lasso", "width": 210, "height": 160,
  "encoding": {"x": {"field": "pred", "type": "quantitative", "title": null, "scale": {"domain": [-0.05, 1.05], "nice": false, "zero": false}, "axis": {"values": [0, 0.25, 0.5, 0.75, 1], "format": ".2f"}}, "y": {"field": "obs", "type": "quantitative", "title": "Observed Probability", "scale": {"domain": [-0.05, 1.05], "nice": false, "zero": false}, "axis": {"values": [0, 0.25, 0.5, 0.75, 1], "format": ".2f"}}},
  "layer": [
   {"data": {"values": [{"pred": -0.05, "obs": -0.05}, {"pred": 1.05, "obs": 1.05}]}, "mark": {"type": "line", "color": "#666666", "strokeWidth": 1.6, "strokeDash": [7, 5]}},
   {"data": {"name": "calib"}, "transform": [{"filter": "datum.model === 'Lasso'"}], "mark": {"type": "rule", "color": "#5A76A6", "strokeWidth": 1.5}, "encoding": {"y": {"field": "lo", "type": "quantitative", "title": "Observed Probability", "scale": {"domain": [-0.05, 1.05], "nice": false, "zero": false}}, "y2": {"field": "hi"}}},
   {"data": {"name": "calib"}, "transform": [{"filter": "datum.model === 'Lasso'"}], "mark": {"type": "circle", "size": 80, "color": "#4B6A9B", "opacity": 1}}
  ]},
 {"width": 210, "height": 54.5, "data": {"name": "hist"}, "transform": [{"filter": "datum.model === 'Lasso'"}],
  "mark": {"type": "bar", "color": "#79A6B7", "stroke": "#79A6B7", "strokeWidth": 1.1},
  "encoding": {"x": {"field": "b0", "type": "quantitative", "title": "Predicted Probability", "scale": {"domain": [-0.05, 1.05], "nice": false, "zero": false}, "axis": {"values": [0, 0.25, 0.5, 0.75, 1], "format": ".2f"}}, "x2": {"field": "b1"}, "y": {"field": "n", "type": "quantitative", "title": null, "scale": {"domain": [-1.5, 31.5], "nice": false, "zero": false}, "axis": {"values": [0, 30], "format": "d"}}, "y2": {"datum": 0}}}
], "spacing": 38, "bounds": "flush"},
{"vconcat": [
 {"title": "Super Learner", "width": 210, "height": 160,
  "encoding": {"x": {"field": "pred", "type": "quantitative", "title": null, "scale": {"domain": [-0.05, 1.05], "nice": false, "zero": false}, "axis": {"values": [0, 0.25, 0.5, 0.75, 1], "format": ".2f"}}, "y": {"field": "obs", "type": "quantitative", "title": "Observed Probability", "scale": {"domain": [-0.05, 1.05], "nice": false, "zero": false}, "axis": {"values": [0, 0.25, 0.5, 0.75, 1], "format": ".2f"}}},
  "layer": [
   {"data": {"values": [{"pred": -0.05, "obs": -0.05}, {"pred": 1.05, "obs": 1.05}]}, "mark": {"type": "line", "color": "#666666", "strokeWidth": 1.6, "strokeDash": [7, 5]}},
   {"data": {"name": "calib"}, "transform": [{"filter": "datum.model === 'Super Learner'"}], "mark": {"type": "rule", "color": "#5A76A6", "strokeWidth": 1.5}, "encoding": {"y": {"field": "lo", "type": "quantitative", "title": "Observed Probability", "scale": {"domain": [-0.05, 1.05], "nice": false, "zero": false}}, "y2": {"field": "hi"}}},
   {"data": {"name": "calib"}, "transform": [{"filter": "datum.model === 'Super Learner'"}], "mark": {"type": "circle", "size": 80, "color": "#4B6A9B", "opacity": 1}}
  ]},
 {"width": 210, "height": 54.5, "data": {"name": "hist"}, "transform": [{"filter": "datum.model === 'Super Learner'"}],
  "mark": {"type": "bar", "color": "#79A6B7", "stroke": "#79A6B7", "strokeWidth": 1.1},
  "encoding": {"x": {"field": "b0", "type": "quantitative", "title": "Predicted Probability", "scale": {"domain": [-0.05, 1.05], "nice": false, "zero": false}, "axis": {"values": [0, 0.25, 0.5, 0.75, 1], "format": ".2f"}}, "x2": {"field": "b1"}, "y": {"field": "n", "type": "quantitative", "title": null, "scale": {"domain": [-1.5, 31.5], "nice": false, "zero": false}, "axis": {"values": [0, 30], "format": "d"}}, "y2": {"datum": 0}}}
], "spacing": 38, "bounds": "flush"}
]
}
